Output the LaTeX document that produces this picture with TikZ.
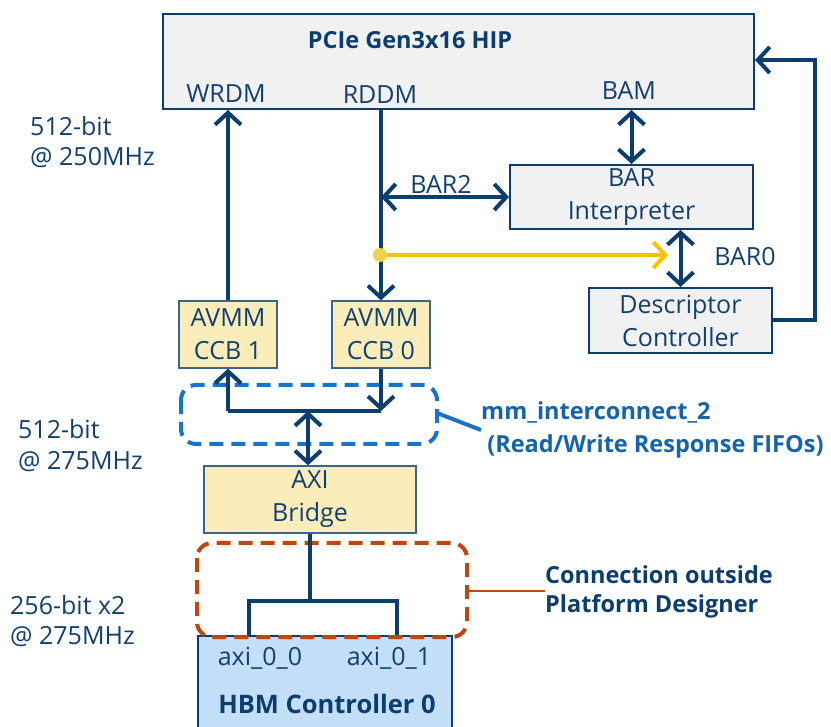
\documentclass[tikz,border=0pt]{standalone}
\usepackage{fontspec}
\setmainfont{Open Sans}
\usetikzlibrary{arrows.meta}
\definecolor{navy}{HTML}{0B3D6E}
\definecolor{txt}{HTML}{123F70}
\definecolor{grayfill}{HTML}{F1F1F1}
\definecolor{yel}{HTML}{FAEDB9}
\definecolor{hbm}{HTML}{C2DFF7}
\definecolor{dblue}{HTML}{1874C8}
\definecolor{orng}{HTML}{C0450E}
\definecolor{gold}{HTML}{FFC000}
\definecolor{dotc}{HTML}{F2D04A}
\tikzset{
  x=1pt, y=-1pt,
  every node/.style={font=\fontsize{25}{33}\selectfont, text=txt, inner sep=0pt},
  bold/.style={font=\fontsize{23.5}{31}\selectfont\bfseries},
  box/.style={draw=navy, line width=2pt, fill=grayfill},
  ybox/.style={draw=navy!80, line width=1.2pt, fill=yel, align=center},
  lbl/.style={align=left, anchor=west},
  arr/.style={draw=navy, line width=4pt, -{Straight Barb[length=12pt,width=26pt,line width=4pt]}},
  darr/.style={draw=navy, line width=4pt, {Straight Barb[length=12pt,width=26pt,line width=4pt]}-{Straight Barb[length=12pt,width=26pt,line width=4pt]}},
  wire/.style={draw=navy, line width=4pt},
  dashbox/.style={line width=4pt, dash pattern=on 14pt off 8pt, rounded corners=15pt},
}
\begin{document}
\begin{tikzpicture}
\useasboundingbox (0,0) rectangle (831,727);
% PCIe
\node[box, minimum width=591pt, minimum height=95pt] (pcie) at (458.5,61.5) {};
\node[bold, text=navy] (title) at (410,40) {PCIe Gen3x16 HIP};
\node (wrdm) at (226,94) {WRDM};
\node (rddm) at (380,95) {RDDM};
\node (bam) at (629,91) {BAM};
% BAR interpreter
\node[box, minimum width=243pt, minimum height=64pt, align=center] (barint) at (631.5,197) {BAR\\Interpreter};
% Descriptor
\node[box, minimum width=183pt, minimum height=65pt, align=center] (desc) at (680.5,320.5) {Descriptor\\Controller};
% AVMM
\node[ybox, minimum width=98pt, minimum height=67pt] (ccb1) at (228,334.5) {AVMM\\CCB 1};
\node[ybox, minimum width=98pt, minimum height=67pt] (ccb0) at (381,334.5) {AVMM\\CCB 0};
% AXI
\node[ybox, minimum width=212pt, minimum height=67pt] (axi) at (310,499.5) {AXI\\Bridge};
% HBM
\node[draw=navy, line width=2pt, fill=hbm, minimum width=254pt, minimum height=110pt] (hbm) at (325,691) {};
\node (a00) at (260,658) {axi\_0\_0};
\node (a01) at (389,658) {axi\_0\_1};
\node[font=\fontsize{25.5}{31}\selectfont\bfseries, text=navy] (hbmt) at (327,704) {HBM Controller 0};
% dashed groups
\draw[dashbox, draw=dblue] (181,385) rectangle (437,444);
\coordinate (mmc) at (437,413);
\draw[dashbox, draw=orng] (197,543) rectangle (467,637);
\coordinate (orc) at (467,591);
% left labels
\node[lbl, font=\fontsize{25}{30}\selectfont] (l1) at (30,142) {512-bit\\@ 250MHz};
\node[lbl, font=\fontsize{25}{31}\selectfont] (l2) at (18,446) {512-bit\\@ 275MHz};
\node[lbl, font=\fontsize{25}{30}\selectfont] (l3) at (10,621) {256-bit x2\\@ 275MHz};
% annotations
\node[lbl, font=\fontsize{23.5}{33}\selectfont\bfseries, text=dblue!70!navy] (mmt) at (481,430) {mm\_interconnect\_2\\\ (Read/Write Response FIFOs)};
\draw[draw=dblue, line width=4pt] (mmc) -- (mmt.west |- 0,430);
\node[lbl, font=\fontsize{23.5}{29}\selectfont\bfseries, text=navy] (cot) at (545,592) {Connection outside\\Platform Designer};
\draw[draw=orng, line width=2pt] (orc) -- (cot.west |- orc);
% connectors
\draw[arr] (ccb1.north) -- (ccb1.north |- pcie.south);
\draw[arr] (ccb0.north |- pcie.south) -- (ccb0.north);
\coordinate (b2) at (ccb0.north |- barint.west);
\draw[darr] (b2) -- (barint.west);
\draw[darr] (barint.north |- pcie.south) -- (barint.north);
\draw[darr] (desc.north |- barint.south) -- (desc.north);
\node (bar0) at (745,257) {BAR0};
\node (bar2) at (441,184) {BAR2};
\coordinate (yd) at (380,255);
\coordinate (ye) at (668,255);
\draw[draw=gold, line width=4pt, -{Straight Barb[length=12pt,width=26pt,line width=4pt]}] (yd) -- (ye);
\fill[dotc] (yd) circle (7pt);
\coordinate (fb) at (815,60);
\draw[arr] (desc.east) -| (fb) -- (pcie.east |- fb);
% interconnect
\coordinate (j1) at (ccb1.south |- 0,411);
\coordinate (j0) at (ccb0.south |- 0,411);
\coordinate (jm) at (308,411);
\draw[arr] (j1) -- (ccb1.south);
\draw[wire] (j1) -- (j0);
\draw[arr] (ccb0.south) -- (j0);
\draw[darr] (jm) -- (jm |- axi.north);
% HBM connection
\coordinate (h0) at (249,601);
\coordinate (h1) at (397,601);
\draw[wire] (axi.south) -- (axi.south |- h0);
\draw[wire] (hbm.north -| h0) -- (h0) -- (h1) -- (hbm.north -| h1);
\end{tikzpicture}
\end{document}
